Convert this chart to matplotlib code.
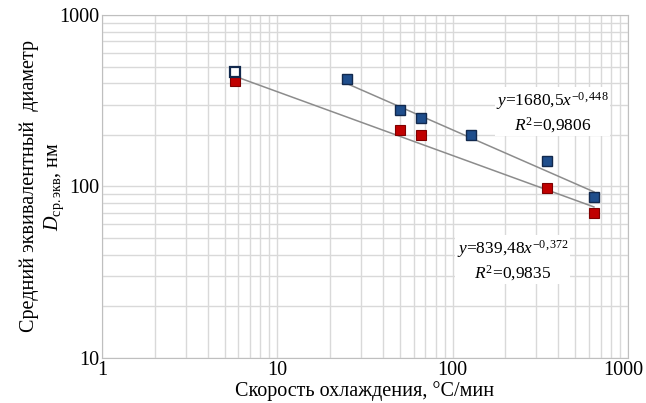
import numpy as np
import matplotlib.pyplot as plt
import matplotlib.transforms as mtransforms

plt.rcParams['font.family'] = ['Liberation Serif', 'DejaVu Serif']
plt.rcParams['mathtext.fontset'] = 'custom'
plt.rcParams['mathtext.rm'] = 'Liberation Serif'
plt.rcParams['mathtext.it'] = 'Liberation Serif:italic'

# data
blue_x = [25, 50, 66, 128, 345, 640]
blue_y = [425, 278, 250, 200, 141, 87]
red_x = [5.75, 50, 66, 345, 640]
red_y = [410, 212, 200, 98, 70]
open_x = [5.75]
open_y = [462]

# power fits shown on the chart
blue_fit = (1680.5, -0.448)
red_fit = (839.48, -0.372)

fig = plt.figure(figsize=(6.46, 4.03), dpi=100)
ax = fig.add_axes([0.158, 0.112, 0.814, 0.851])

ax.set_xscale('log')
ax.set_yscale('log')
ax.set_xlim(1, 1000)
ax.set_ylim(10, 1000)

ax.grid(True, which='both', color='#d9d9d9', linewidth=1.0)
ax.set_axisbelow(True)
for s in ax.spines.values():
    s.set_color('#bfbfbf')
ax.tick_params(which='both', length=0, labelsize=14.5, colors='black', pad=2)
ax.set_xticks([1, 10, 100, 1000])
ax.set_xticklabels(['1', '10', '100', '1000'])
ax.set_yticks([10, 100, 1000])
ax.set_yticklabels(['10', '100', '1000'])
# the last x label sits a bit inside so it is not cut at the edge
last = ax.get_xticklabels()[-1]
last.set_transform(last.get_transform() +
                   mtransforms.ScaledTranslation(-0.05, 0, fig.dpi_scale_trans))

# trend lines
xb = np.array([min(blue_x), max(blue_x)])
ax.plot(xb, blue_fit[0] * xb ** blue_fit[1], color='#8c8c8c', lw=1.1, zorder=2)
xr = np.array([min(red_x), max(red_x)])
ax.plot(xr, red_fit[0] * xr ** red_fit[1], color='#8c8c8c', lw=1.1, zorder=2)

ax.plot(red_x, red_y, 's', ms=7.5, color='#c00000', mec='#7f0000', mew=0.8, ls='none', zorder=3)
ax.plot(blue_x, blue_y, 's', ms=7.5, color='#1f4e8c', mec='#12294d', mew=1.0, ls='none', zorder=4)
ax.plot(open_x, open_y, 's', ms=7.5, color='white', mec='#12294d', mew=1.6, ls='none', zorder=5)

bbox = dict(facecolor='white', edgecolor='none', pad=1)
ax.text(370, 270, '$y$=1680,5$x^{-0,448}$\n$R^2$=0,9806', fontsize=12.5,
        ha='center', va='center', linespacing=1.25, bbox=bbox, zorder=6)
ax.text(220, 37, '$y$=839,48$x^{-0,372}$\n$R^2$=0,9835', fontsize=12.5,
        ha='center', va='center', linespacing=1.25, bbox=bbox, zorder=6)

ax.set_xlabel('Скорость охлаждения, °C/мин', fontsize=14.5, labelpad=1)
ax.set_ylabel('Средний эквивалентный  диаметр\n$\\mathit{D}_{\\mathrm{ср.экв}}$, нм',
              fontsize=14.5, linespacing=1.25)
ax.yaxis.set_label_coords(-0.068, 0.5)

fig.savefig('out.png', dpi=100)
